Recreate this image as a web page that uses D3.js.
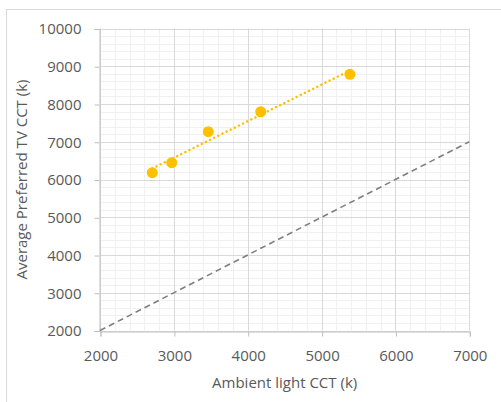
<!DOCTYPE html>
<html>
<head>
<meta charset="utf-8">
<script src="https://cdn.jsdelivr.net/npm/d3@7/dist/d3.min.js"></script>
<style>
  html, body { margin: 0; padding: 0; background: #fff; }
  svg { display: block; }
  text { font-family: "Open Sans", "Liberation Sans", sans-serif; fill: #595959; }
</style>
</head>
<body>
<svg id="chart" width="501" height="402"></svg>
<script>
// Ambient light CCT vs. average preferred TV CCT
const ambientCCT = [2708, 2971, 3466, 4176, 5384];
const preferredCCT = [6181, 6446, 7266, 7795, 8785];
const referenceLine = [2000, 7000]; // y = x
const xTicks = [2000, 3000, 4000, 5000, 6000, 7000];
const yTicks = [2000, 3000, 4000, 5000, 6000, 7000, 8000, 9000, 10000];
const xTitle = "Ambient light CCT (k)";
const yTitle = "Average Preferred TV CCT (k)";

(function () {
const svg = d3.select("#chart");
const pLeft = 100, pRight = 469.3, pTop = 28.5, pBottom = 330.5;

// chart frame
svg.append("rect")
  .attr("x", 6.5).attr("y", 9.5)
  .attr("width", 510).attr("height", 410)
  .attr("fill", "#fff").attr("stroke", "#d9d9d9").attr("stroke-width", 1);

const x = d3.scaleLinear().domain([2000, 7000]).range([pLeft, pRight]);
const y = d3.scaleLinear().domain([2000, 10000]).range([pBottom, pTop]);

// minor gridlines
const minorX = d3.range(2000, 7001, 200);
const minorY = d3.range(2000, 10001, 200);
const grid = svg.append("g");
grid.selectAll(".mx").data(minorX).join("line")
  .attr("x1", d => Math.round(x(d)) + 0.5).attr("x2", d => Math.round(x(d)) + 0.5)
  .attr("y1", pTop).attr("y2", pBottom)
  .attr("stroke", "#f0f0f0").attr("stroke-width", 1);
grid.selectAll(".my").data(minorY).join("line")
  .attr("y1", d => Math.round(y(d)) + 0.5).attr("y2", d => Math.round(y(d)) + 0.5)
  .attr("x1", pLeft).attr("x2", pRight)
  .attr("stroke", "#f0f0f0").attr("stroke-width", 1);
// major gridlines
grid.selectAll(".MX").data(xTicks).join("line")
  .attr("x1", d => Math.round(x(d)) + 0.5).attr("x2", d => Math.round(x(d)) + 0.5)
  .attr("y1", pTop).attr("y2", pBottom)
  .attr("stroke", "#d9d9d9").attr("stroke-width", 1);
grid.selectAll(".MY").data(yTicks).join("line")
  .attr("y1", d => Math.round(y(d)) + 0.5).attr("y2", d => Math.round(y(d)) + 0.5)
  .attr("x1", pLeft).attr("x2", pRight)
  .attr("stroke", "#d9d9d9").attr("stroke-width", 1);

// axes
const xAxis = svg.append("g")
  .attr("transform", `translate(0.5,${Math.round(pBottom) + 0.5})`)
  .call(d3.axisBottom(x).tickValues(xTicks).tickSize(5).tickPadding(14).tickFormat(d3.format("d")));
const yAxis = svg.append("g")
  .attr("transform", `translate(${pLeft - 0.5},0.5)`)
  .call(d3.axisLeft(y).tickValues(yTicks).tickSize(5).tickPadding(13).tickFormat(d3.format("d")));
[xAxis, yAxis].forEach(a => {
  a.select(".domain").attr("stroke", "#bfbfbf");
  a.selectAll(".tick line").attr("stroke", "#bfbfbf");
  a.selectAll(".tick text").attr("fill", "#595959")
    .style("font-size", "15px").style("font-family", "'Open Sans', sans-serif");
});

// y = x reference line
svg.append("line")
  .attr("x1", x(referenceLine[0])).attr("y1", y(referenceLine[0]))
  .attr("x2", x(referenceLine[1])).attr("y2", y(referenceLine[1]))
  .attr("stroke", "#7f7f7f").attr("stroke-width", 1.6)
  .attr("stroke-dasharray", "6,4");

// linear trendline over the data range
const n = ambientCCT.length;
const mx = d3.mean(ambientCCT), my = d3.mean(preferredCCT);
let sxy = 0, sxx = 0;
for (let i = 0; i < n; i++) {
  sxy += (ambientCCT[i] - mx) * (preferredCCT[i] - my);
  sxx += (ambientCCT[i] - mx) ** 2;
}
const slope = sxy / sxx, intercept = my - slope * mx;
const x0 = d3.min(ambientCCT), x1 = d3.max(ambientCCT);
svg.append("line")
  .attr("x1", x(x0)).attr("y1", y(intercept + slope * x0))
  .attr("x2", x(x1)).attr("y2", y(intercept + slope * x1))
  .attr("stroke", "#ffc000").attr("stroke-width", 2.5)
  .attr("stroke-linecap", "round")
  .attr("stroke-dasharray", "0.1,4.5");

// data points
svg.selectAll(".pt").data(ambientCCT).join("circle")
  .attr("cx", d => x(d))
  .attr("cy", (d, i) => y(preferredCCT[i]))
  .attr("r", 5.5)
  .attr("fill", "#ffc000");

// axis titles
svg.append("text")
  .attr("x", (pLeft + pRight) / 2).attr("y", 388)
  .attr("text-anchor", "middle")
  .style("font-size", "15px")
  .text(xTitle);
svg.append("text")
  .attr("transform", `translate(27,${(pTop + pBottom) / 2}) rotate(-90)`)
  .attr("text-anchor", "middle")
  .style("font-size", "15px")
  .text(yTitle);
})();
</script>
</body>
</html>
